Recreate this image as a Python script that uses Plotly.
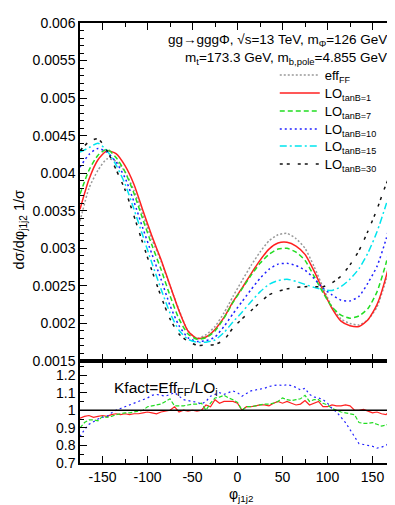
import plotly.graph_objects as go
from plotly.subplots import make_subplots

# %% data
phi = [-175, -165, -155, -145, -135, -125, -115, -105, -95, -85, -75, -65,
       -55, -45, -35, -25, -15, -5, 5, 15, 25, 35, 45, 55,
       65, 75, 85, 95, 105, 115, 125, 135, 145, 155, 165, 175]

eff_ff = [0.00336, 0.00380, 0.00404, 0.00419, 0.00416, 0.00402, 0.00377, 0.00344, 0.00312, 0.00283, 0.00250, 0.00218,
          0.00190, 0.00180, 0.00185, 0.00196, 0.00214, 0.00236, 0.00257, 0.00277, 0.00295, 0.00310, 0.00318, 0.00320,
          0.00313, 0.00300, 0.00276, 0.00248, 0.00222, 0.00206, 0.00200, 0.00198, 0.00205, 0.00222, 0.00258, 0.00305]
lo_tb1 = [0.00352, 0.00392, 0.00418, 0.00430, 0.00426, 0.00410, 0.00385, 0.00350, 0.00316, 0.00285, 0.00251, 0.00217,
          0.00190, 0.00180, 0.00182, 0.00192, 0.00208, 0.00229, 0.00247, 0.00266, 0.00284, 0.00299, 0.00307, 0.00308,
          0.00303, 0.00292, 0.00270, 0.00244, 0.00220, 0.00203, 0.00197, 0.00196, 0.00205, 0.00225, 0.00262, 0.00313]
lo_tb7 = [0.00372, 0.00404, 0.00424, 0.00432, 0.00421, 0.00402, 0.00373, 0.00338, 0.00304, 0.00272, 0.00237, 0.00206,
          0.00186, 0.00179, 0.00181, 0.00190, 0.00207, 0.00228, 0.00246, 0.00264, 0.00280, 0.00292, 0.00299, 0.00300,
          0.00295, 0.00284, 0.00263, 0.00241, 0.00222, 0.00211, 0.00207, 0.00210, 0.00220, 0.00242, 0.00280, 0.00331]
lo_tb10 = [0.00408, 0.00425, 0.00433, 0.00428, 0.00415, 0.00394, 0.00362, 0.00326, 0.00292, 0.00259, 0.00224, 0.00197,
           0.00181, 0.00176, 0.00177, 0.00182, 0.00196, 0.00213, 0.00229, 0.00245, 0.00260, 0.00272, 0.00279, 0.00280,
           0.00277, 0.00271, 0.00260, 0.00247, 0.00238, 0.00231, 0.00230, 0.00236, 0.00254, 0.00276, 0.00312, 0.00362]
lo_tb15 = [0.00428, 0.00434, 0.00440, 0.00430, 0.00411, 0.00386, 0.00352, 0.00316, 0.00280, 0.00246, 0.00214, 0.00191,
           0.00179, 0.00175, 0.00175, 0.00178, 0.00188, 0.00202, 0.00215, 0.00229, 0.00242, 0.00252, 0.00257, 0.00259,
           0.00256, 0.00252, 0.00248, 0.00245, 0.00244, 0.00249, 0.00259, 0.00273, 0.00294, 0.00322, 0.00358, 0.00398]
lo_tb30 = [0.00430, 0.00442, 0.00446, 0.00430, 0.00405, 0.00378, 0.00343, 0.00306, 0.00270, 0.00236, 0.00206, 0.00186,
           0.00176, 0.00171, 0.00171, 0.00172, 0.00178, 0.00194, 0.00206, 0.00217, 0.00228, 0.00238, 0.00243, 0.00246,
           0.00248, 0.00249, 0.00249, 0.00249, 0.00254, 0.00263, 0.00278, 0.00297, 0.00323, 0.00352, 0.00385, 0.00412]

phi_k = list(range(-175, 176, 5))
k_tb1 = [0.955, 0.965, 0.97, 0.96, 0.965, 0.97, 0.965, 0.975, 0.98, 0.975, 0.98, 0.975,
         0.98, 0.98, 0.985, 0.99, 0.985, 0.98, 0.99, 0.995, 1.0, 1.02, 0.99, 1.0,
         0.995, 1.0, 0.995, 1.0, 1.03, 1.02, 1.06, 1.04, 1.05, 1.05, 1.05, 1.04,
         1.0, 1.02, 1.02, 1.025, 1.03, 1.03, 1.025, 1.04, 1.05, 1.04, 1.05, 1.04,
         1.03, 1.035, 1.055, 1.03, 1.04, 1.05, 1.02, 1.02, 1.03, 1.025, 1.025, 1.03,
         1.025, 1.0, 1.0, 1.005, 0.995, 0.985, 0.99, 0.98, 0.975, 1.0, 0.965]
k_tb7 = [0.90, 0.93, 0.945, 0.945, 0.94, 0.965, 0.96, 0.965, 0.975, 0.98, 0.985, 0.985,
         0.99, 0.995, 1.0, 1.02, 1.025, 1.03, 1.035, 1.05, 1.065, 1.025, 1.025, 1.025,
         1.03, 1.035, 1.035, 1.04, 1.0, 1.04, 1.07, 1.075, 1.085, 1.07, 1.06, 1.045,
         1.0, 1.02, 1.02, 1.025, 1.03, 1.035, 1.035, 1.04, 1.05, 1.07, 1.06, 1.055,
         1.06, 1.065, 1.085, 1.05, 1.06, 1.06, 1.04, 1.03, 1.01, 1.0, 0.99, 0.985,
         0.98, 0.975, 0.93, 0.925, 0.925, 0.93, 0.92, 0.91, 0.915, 0.93, 0.91]
k_tb10 = [0.85, 0.89, 0.92, 0.935, 0.95, 0.96, 0.965, 0.985, 1.0, 1.01, 1.02, 1.03,
          1.04, 1.05, 1.06, 1.07, 1.085, 1.09, 1.085, 1.08, 1.09, 1.1, 1.08, 1.06,
          1.055, 1.05, 1.045, 1.035, 1.05, 1.08, 1.09, 1.1, 1.09, 1.1, 1.11, 1.1,
          1.08, 1.095, 1.11, 1.115, 1.12, 1.125, 1.135, 1.14, 1.145, 1.14, 1.145, 1.14,
          1.13, 1.115, 1.125, 1.09, 1.075, 1.07, 1.06, 1.04, 1.01, 0.99, 0.96, 0.93,
          0.89, 0.85, 0.81, 0.805, 0.80, 0.795, 0.785, 0.79, 0.80, 0.82, 0.86]

y_main_ticks = [0.0015, 0.002, 0.0025, 0.003, 0.0035, 0.004, 0.0045, 0.005, 0.0055, 0.006]
y_main_labels = ['0.0015', '0.002', '0.0025', '0.003', '0.0035', '0.004', '0.0045', '0.005', '0.0055', '0.006']
y_k_ticks = [0.7, 0.8, 0.9, 1.0, 1.1, 1.2]
y_k_labels = ['0.7', '0.8', '0.9', '1', '1.1', '1.2']
x_ticks = [-150, -100, -50, 0, 50, 100, 150]
x_labels = ['-150', '-100', '-50', '0', '50', '100', '150']

# %% figure
FONT = 'Liberation Sans, Arial, sans-serif'
W, H = 395, 505
ML, MR, MT, MB = 72, 6, 15, 50

fig = make_subplots(rows=2, cols=1, shared_xaxes=True, vertical_spacing=0,
                    row_heights=[338, 102])


def px(x, y):
    return (x - ML) / (W - ML - MR), (H - MB - y) / (H - MT - MB)


styles = [
    ('eff<sub>FF</sub>', eff_ff, '#999999', '2px,2px'),
    ('LO<sub>tanB=1</sub>', lo_tb1, '#ff2020', 'solid'),
    ('LO<sub>tanB=7</sub>', lo_tb7, '#22dd22', '5px,3px'),
    ('LO<sub>tanB=10</sub>', lo_tb10, '#2020ff', '2px,3px'),
    ('LO<sub>tanB=15</sub>', lo_tb15, '#00e5ee', '7px,3px,2px,3px'),
    ('LO<sub>tanB=30</sub>', lo_tb30, '#111111', '3px,4px,3px,8px'),
]
legend_rows = [67, 85, 103, 121, 138, 156]   # pixel centres of the legend entries

legends = {}
for i, ((name, vals, col, dash), ly) in enumerate(zip(styles, legend_rows)):
    key = 'legend' if i == 0 else f'legend{i + 1}'
    fig.add_trace(go.Scatter(x=phi, y=vals, mode='lines', name=name, legend=key,
                             line=dict(color=col, width=1.5, dash=dash, shape='spline', smoothing=0.6)),
                  row=1, col=1)
    lx, lyp = px(268, ly)
    legends[key] = dict(x=lx, y=lyp, xanchor='left', yanchor='middle', bgcolor='rgba(0,0,0,0)',
                        font=dict(family=FONT, size=13, color='black'), itemwidth=40)

for vals, col, dash in [(k_tb1, '#ff2020', 'solid'), (k_tb7, '#22dd22', '4px,2px'),
                        (k_tb10, '#2020ff', '2px,3px')]:
    fig.add_trace(go.Scatter(x=phi_k, y=vals, mode='lines', showlegend=False,
                             line=dict(color=col, width=1.2, dash=dash)),
                  row=2, col=1)

fig.add_hline(y=1, line=dict(color='black', width=1.5), row=2, col=1)

axis_common = dict(showline=True, linecolor='black', linewidth=1.5, mirror='ticks',
                   ticks='inside', ticklen=7, tickwidth=1, tickcolor='black',
                   showgrid=False, zeroline=False,
                   tickfont=dict(family=FONT, size=14, color='black'))

fig.update_xaxes(range=[-175, 175], tickvals=x_ticks, ticktext=x_labels,
                 minor=dict(dtick=25, tick0=0, ticks='inside', ticklen=4, tickcolor='black'),
                 **axis_common)
fig.update_xaxes(showticklabels=False, row=1, col=1)
fig.update_yaxes(range=[0.0015, 0.006], tickvals=y_main_ticks, ticktext=y_main_labels,
                 minor=dict(dtick=0.0001, tick0=0, ticks='inside', ticklen=4, tickcolor='black'),
                 row=1, col=1, **axis_common)
fig.update_yaxes(range=[0.7, 1.28], tickvals=y_k_ticks, ticktext=y_k_labels,
                 minor=dict(dtick=0.05, tick0=0, ticks='inside', ticklen=4, tickcolor='black'),
                 row=2, col=1, **axis_common)

annos = [
    ('gg→gggΦ, √s=13 TeV, m<sub>Φ</sub>=126 GeV', 383, 33, 'right', 13.5),
    ('m<sub>t</sub>=173.3 GeV, m<sub>b,pole</sub>=4.855 GeV', 383, 50, 'right', 13.5),
    ('Kfact=Eff<sub>FF</sub>/LO<sub>i</sub>', 104, 380, 'left', 15.5),
]
for txt, x, y, anc, fs in annos:
    ax, ay = px(x, y)
    fig.add_annotation(text=txt, x=ax, y=ay, xref='paper', yref='paper', showarrow=False,
                       xanchor=anc, yanchor='middle', font=dict(family=FONT, size=fs, color='black'))

ax, ay = px(12, 222)
fig.add_annotation(text='dσ/dφ<sub>j1j2</sub> 1/σ', x=ax, y=ay, xref='paper', yref='paper',
                   showarrow=False, textangle=-90, xanchor='center', yanchor='middle',
                   font=dict(family=FONT, size=14.5, color='black'))
ax, ay = px(234, 487)
fig.add_annotation(text='φ<sub>j1j2</sub>', x=ax, y=ay, xref='paper', yref='paper',
                   showarrow=False, xanchor='center', yanchor='middle',
                   font=dict(family=FONT, size=14, color='black'))

fig.update_layout(
    width=W, height=H,
    margin=dict(l=ML, r=MR, t=MT, b=MB),
    paper_bgcolor='white', plot_bgcolor='white',
    font=dict(family=FONT, size=13, color='black'),
    **legends,
)

fig.write_html("out.html")
